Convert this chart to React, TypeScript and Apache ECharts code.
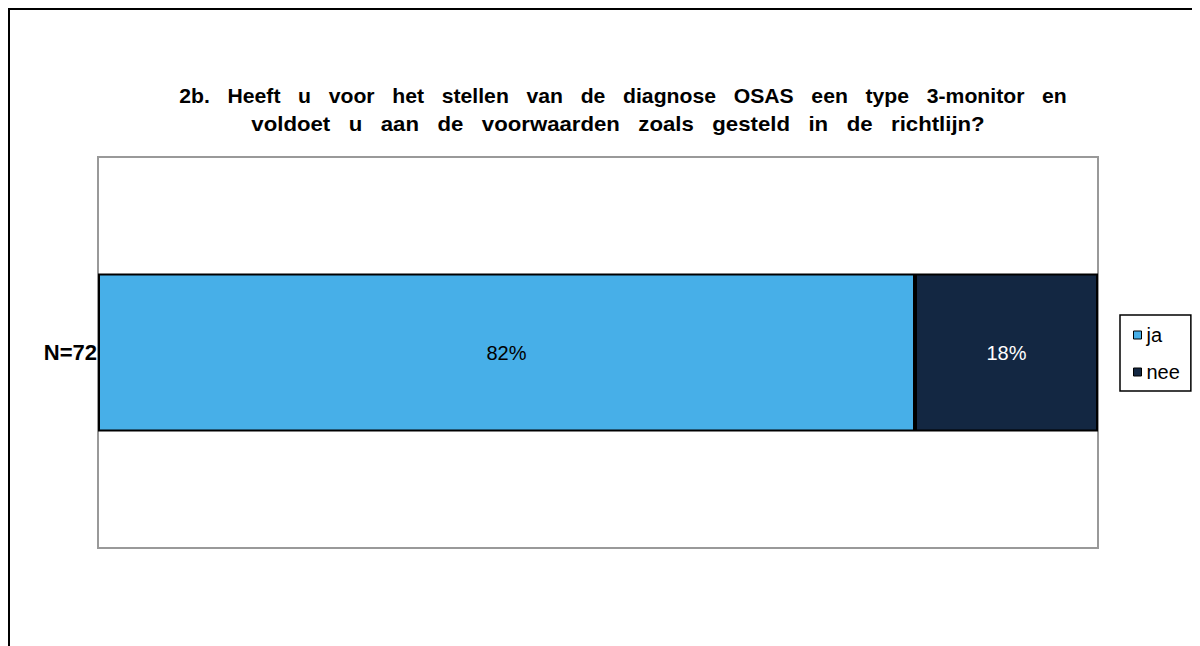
import React, { useEffect, useRef } from "react";
import * as echarts from "echarts";

const categories = ["N=72"];
const seriesNames = ["ja", "nee"];
const jaValues = [81.7];
const neeValues = [18.3];
const colors = ["#47AFE8", "#132742"];
const titleLines = [
  "2b. Heeft  u voor het stellen van de diagnose OSAS een type 3-monitor en",
  "voldoet u aan de voorwaarden  zoals gesteld in de richtlijn?",
];

export default function App() {
  const ref = useRef<HTMLDivElement>(null);
  useEffect(() => {
    const chart = echarts.init(ref.current!, null, { renderer: "svg" });
    const font = "Liberation Sans, Arial, sans-serif";
    const titleLayout = [
      { x: 613, y: 86, sx: 1.06 },
      { x: 608, y: 114, sx: 1.11 },
    ];
    chart.setOption({
      animation: false,
      graphic: titleLines.map((line, i) => ({
        type: "text",
        x: titleLayout[i].x,
        y: titleLayout[i].y,
        scaleX: titleLayout[i].sx,
        style: {
          text: line.replace(/ +/g, "   "),
          font: "bold 20px " + font,
          fill: "#000",
          textAlign: "center",
          textVerticalAlign: "middle",
        },
      })),
      legend: {
        orient: "vertical",
        left: 1110,
        top: 305,
        icon: "rect",
        itemWidth: 8,
        itemHeight: 8,
        itemGap: 17,
        padding: [10, 11, 9, 13],
        borderColor: "#000",
        borderWidth: 1.5,
        itemStyle: { borderColor: "#000", borderWidth: 1 },
        textStyle: { fontFamily: font, fontSize: 20, color: "#000" },
        data: seriesNames,
      },
      grid: {
        left: 88,
        top: 147,
        width: 1000,
        height: 391,
        show: true,
        borderColor: "#999",
        borderWidth: 2,
        backgroundColor: "#fff",
      },
      xAxis: {
        type: "value",
        min: 0,
        max: 100,
        show: false,
      },
      yAxis: {
        type: "category",
        data: categories,
        axisLine: { show: true, lineStyle: { color: "#999", width: 2 } },
        axisTick: { show: false },
        axisLabel: {
          margin: 1,
          fontFamily: font,
          fontWeight: "bold",
          fontSize: 22,
          color: "#000",
        },
      },
      series: [
        {
          name: seriesNames[0],
          type: "bar",
          stack: "total",
          data: jaValues,
          barWidth: 158,
          itemStyle: { color: colors[0], borderColor: "#000", borderWidth: 2 },
          label: {
            show: true,
            position: "inside",
            fontFamily: font,
            fontSize: 20,
            color: "#000",
            formatter: (p: any) => Math.round(p.value) + "%",
          },
        },
        {
          name: seriesNames[1],
          type: "bar",
          stack: "total",
          data: neeValues,
          barWidth: 158,
          itemStyle: { color: colors[1], borderColor: "#000", borderWidth: 2 },
          label: {
            show: true,
            position: "inside",
            fontFamily: font,
            fontSize: 20,
            color: "#fff",
            formatter: (p: any) => Math.round(p.value) + "%",
          },
        },
      ],
    });
    return () => chart.dispose();
  }, []);
  return (
    <div
      style={{
        width: 1192,
        height: 638,
        borderLeft: "2px solid #000",
        borderTop: "2px solid #000",
        boxSizing: "border-box",
      }}
    >
      <div ref={ref} style={{ width: 1190, height: 636 }} />
    </div>
  );
}
